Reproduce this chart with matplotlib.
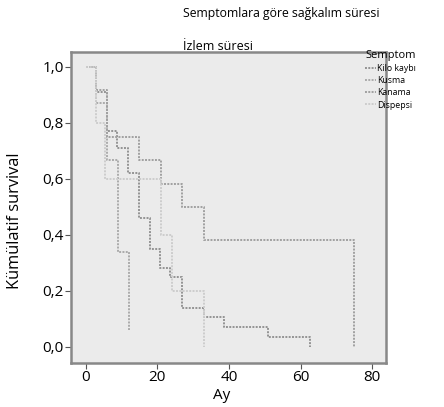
import matplotlib
matplotlib.use("Agg")
import matplotlib.pyplot as plt

plt.rcParams['font.family'] = ['Open Sans', 'DejaVu Sans']

# Kaplan-Meier basamaklari (ay, kumulatif survival)
kilo_t = [0, 3, 6, 8.7, 11.8, 15, 18, 20.8, 23.6, 27, 33, 38.7, 51, 62.7]
kilo_s = [1.0, 0.91, 0.77, 0.71, 0.62, 0.46, 0.35, 0.28, 0.25, 0.14, 0.105, 0.07, 0.035, 0.0]

kusma_t = [0, 3, 6, 9, 12]
kusma_s = [1.0, 0.87, 0.667, 0.34, 0.06]

kanama_t = [0, 3, 6, 15, 21, 27, 33, 75]
kanama_s = [1.0, 0.917, 0.75, 0.667, 0.583, 0.5, 0.38, 0.0]

dispepsi_t = [0, 3, 5.5, 21, 24, 33]
dispepsi_s = [1.0, 0.8, 0.6, 0.4, 0.2, 0.0]

labels = ["Kilo kaybı", "Kusma", "Kanama", "Dispepsi"]
x_ticks = [0, 20, 40, 60, 80]
y_ticks = [0.0, 0.2, 0.4, 0.6, 0.8, 1.0]

fig = plt.figure(figsize=(4.44, 4.07), dpi=100)
ax = fig.add_axes([0.159, 0.108, 0.710, 0.765])
ax.set_facecolor("#ebebeb")

series = [(kilo_t, kilo_s, "#939393"),
          (kusma_t, kusma_s, "#ababab"),
          (kanama_t, kanama_s, "#a0a0a0"),
          (dispepsi_t, dispepsi_s, "#cdcdcd")]
handles = []
for (t, s, c), lab in zip(series, labels):
    h, = ax.step(t, s, where="post", color=c, linestyle=(0, (1, 0.7)), linewidth=1.4, label=lab)
    handles.append(h)

ax.set_xlim(-4.2, 83.8)
ax.set_ylim(-0.058, 1.054)
ax.set_xticks(x_ticks)
ax.set_yticks(y_ticks)
ax.set_yticklabels([f"{v:.1f}".replace(".", ",") for v in y_ticks])
ax.tick_params(labelsize=11, length=4, color="#555555", pad=1)
for sp in ax.spines.values():
    sp.set_color("#888888")
    sp.set_linewidth(1.8)

fig.text(0.034, 0.457, "Kümülatif survival", rotation=90, ha="center", va="center", fontsize=11.8)
fig.text(0.5, 0.029, "Ay", ha="center", va="center", fontsize=11)
fig.text(0.412, 0.966, "Semptomlara göre sağkalım süresi", ha="left", va="center", fontsize=8.8)
fig.text(0.412, 0.885, "İzlem süresi", ha="left", va="center", fontsize=9)

leg = fig.legend(handles=handles, labels=labels, title="Semptom", loc="upper left",
                 bbox_to_anchor=(0.815, 0.885), frameon=False, fontsize=6.3,
                 title_fontsize=8, handlelength=1.2, handletextpad=0.1,
                 labelspacing=0.35, borderaxespad=0)
leg._legend_box.align = "left"

fig.savefig("out.png", dpi=100)
